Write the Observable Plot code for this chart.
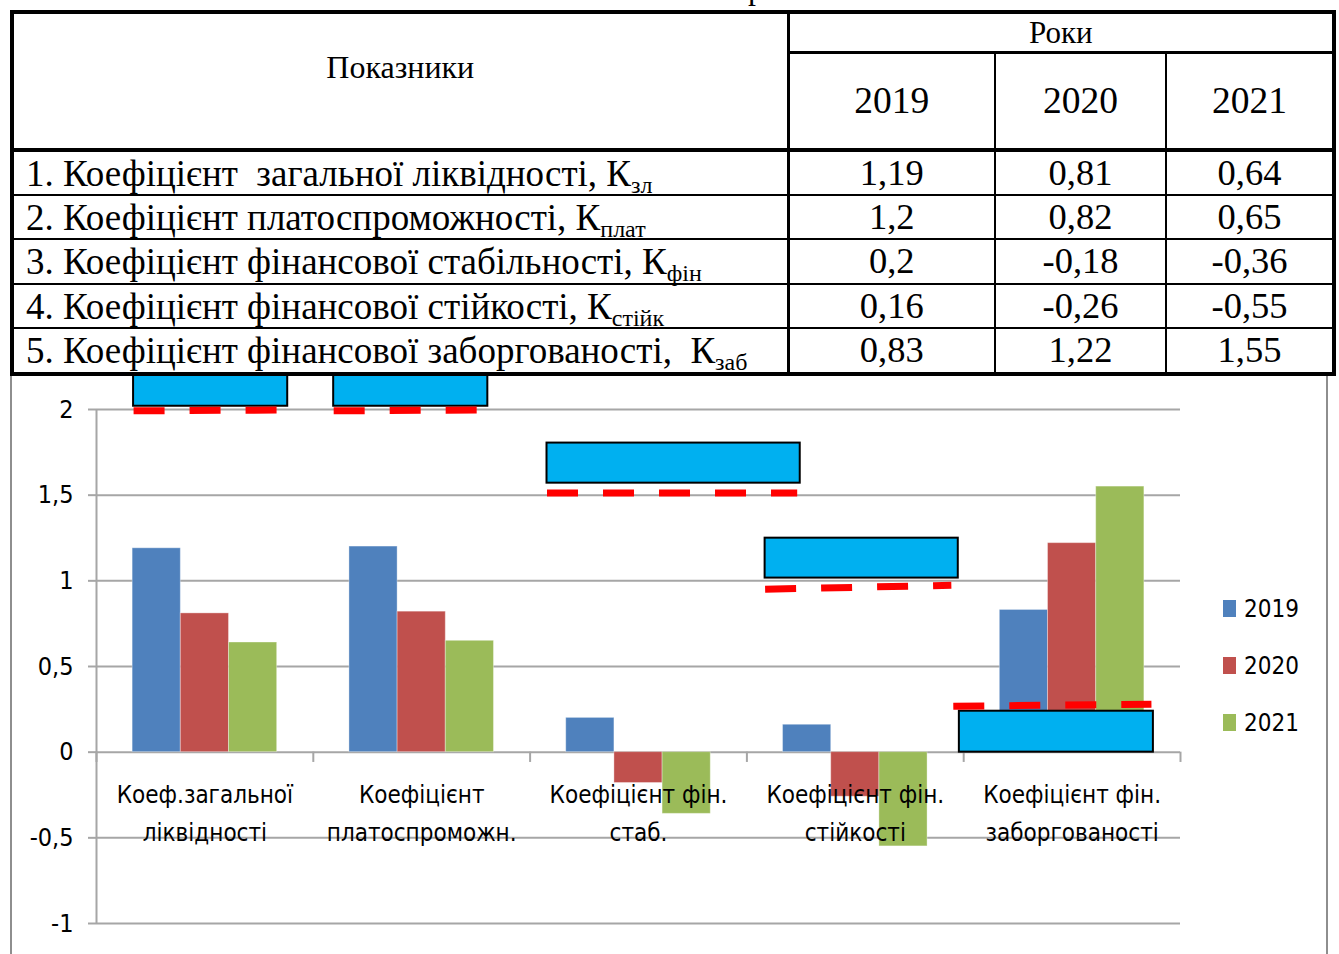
<!DOCTYPE html>
<html><head><meta charset="utf-8">
<script src="https://cdn.jsdelivr.net/npm/d3@7"></script>
<script src="https://cdn.jsdelivr.net/npm/@observablehq/plot@0.6"></script>
<style>
html,body{margin:0;padding:0;background:#fff;overflow:hidden;width:1339px;height:954px;}
#cap{position:absolute;left:748px;top:-28px;font:32px/32px "Liberation Serif","Times New Roman",serif;}
#tbl{position:absolute;left:10px;top:10px;width:1322px;border-collapse:collapse;table-layout:fixed;font-family:"Liberation Serif","Times New Roman",serif;color:#000;z-index:2;background:#fff;}
#tbl td{border:2px solid #000;padding:0;text-align:center;white-space:pre;line-height:1;}
#tbl td.lbl{text-align:left;padding-left:12px;font-size:37px;}
#tbl td.val{font-size:36.5px;}
#tbl sub{font-size:24px;vertical-align:-7px;line-height:0;}
#frame{position:absolute;left:10px;top:370px;width:1314px;height:700px;border:2px solid #8e8e8e;z-index:0;}
#chart{position:absolute;left:0;top:374px;z-index:1;}
#chart svg{overflow:visible;}
#legend{position:absolute;left:0;top:0;z-index:3;font-family:"Liberation Sans Narrow","Arial Narrow","DejaVu Sans Condensed",sans-serif;font-size:24px;}
.li{position:absolute;left:1223px;height:30px;line-height:30px;white-space:nowrap;}
.li span.sw{display:inline-block;width:13px;height:17px;vertical-align:middle;margin-right:8px;position:relative;top:-2px;}
</style>
</head><body>
<div id="cap">р</div>
<div id="frame"></div>
<table id="tbl"></table>
<div id="chart"></div>
<div id="legend"></div>
<script>
// ---- data ----
const indicatorNames = [
  "1. Коефіцієнт  загальної ліквідності, К",
  "2. Коефіцієнт платоспроможності, К",
  "3. Коефіцієнт фінансової стабільності, К",
  "4. Коефіцієнт фінансової стійкості, К",
  "5. Коефіцієнт фінансової заборгованості,  К"
];
const indicatorSubs = ["зл", "плат", "фін", "стійк", "заб"];
const categories = [
  "Коеф.загальної\nліквідності",
  "Коефіцієнт\nплатоспроможн.",
  "Коефіцієнт фін.\nстаб.",
  "Коефіцієнт фін.\nстійкості",
  "Коефіцієнт фін.\nзаборгованості"
];
const years = ["2019", "2020", "2021"];
const values2019 = [1.19, 1.2, 0.2, 0.16, 0.83];
const values2020 = [0.81, 0.82, -0.18, -0.26, 1.22];
const values2021 = [0.64, 0.65, -0.36, -0.55, 1.55];
const yTicks = [-1, -0.5, 0, 0.5, 1, 1.5, 2];
const colors = ["#4f81bd", "#c0504d", "#9bbb59"];
// annotation boxes and dashed threshold lines (in chart data space: category units, value units)
const boxes = [
  {x1: 0.171, x2: 0.882, y1: 2.019, y2: 2.2},
  {x1: 1.094, x2: 1.805, y1: 2.019, y2: 2.2},
  {x1: 2.078, x2: 3.246, y1: 1.57, y2: 1.804},
  {x1: 3.084, x2: 3.975, y1: 1.016, y2: 1.249},
  {x1: 3.980, x2: 4.875, y1: 0.0, y2: 0.239}
];
const dashes = [
  {x1: 0.171, x2: 0.836, y1: 1.992, y2: 1.997},
  {x1: 1.094, x2: 1.759, y1: 1.992, y2: 1.997},
  {x1: 2.078, x2: 3.232, y1: 1.512, y2: 1.512},
  {x1: 3.084, x2: 3.943, y1: 0.951, y2: 0.974},
  {x1: 3.952, x2: 4.866, y1: 0.268, y2: 0.280}
];

const series = [values2019, values2020, values2021];
const fmt = v => String(v).replace(".", ",");

// ---- table ----
const tbl = document.getElementById("tbl");
let html = '<colgroup><col style="width:776px"><col style="width:207px"><col style="width:171px"><col style="width:168px"></colgroup>';
html += '<tr style="height:40px"><td rowspan="2" style="border:4px solid #000;border-right:3px solid #000;vertical-align:top;padding-top:37px;font-size:32px;">Показники</td>'
      + '<td colspan="3" style="border-top:4px solid #000;border-right:4px solid #000;border-bottom:3px solid #000;font-size:31px;">Роки</td></tr>';
html += '<tr style="height:98px">' + years.map((y, j) => `<td style="font-size:37.5px;border-bottom:4px solid #000;${j===2?'border-right:4px solid #000;':''}">${y}</td>`).join("") + '</tr>';
const rowH = [45, 44, 45, 44, 46];
indicatorNames.forEach((n, i) => {
  const last = i === indicatorNames.length - 1;
  const bb = last ? 'border-bottom:4px solid #000;' : '';
  html += `<tr style="height:${rowH[i]}px"><td class="lbl" style="border-left:4px solid #000;border-right:3px solid #000;${bb}">${n}<sub>${indicatorSubs[i]}</sub></td>`
    + series.map((s, j) => `<td class="val" style="${bb}${j===2?'border-right:4px solid #000;':''}">${fmt(s[i])}</td>`).join("") + '</tr>';
});
tbl.innerHTML = html;

// ---- chart ----
const bars = [];
categories.forEach((c, i) => years.forEach((yr, j) => bars.push({cat: i, j, year: yr, value: series[j][i]})));
const groupPad = 1 / 6, barW = (1 - 2 * groupPad) / years.length;
const chartFont = '"Liberation Sans Narrow","Arial Narrow","DejaVu Sans Condensed",sans-serif';

const plot = Plot.plot({
  width: 1339, height: 580,
  marginLeft: 96, marginRight: 159, marginTop: 35, marginBottom: 31,
  x: {domain: [0, categories.length], axis: null},
  y: {domain: [-1, 2], axis: null},
  color: {domain: years, range: colors},
  style: {fontFamily: chartFont, fontSize: "24px", color: "#000", background: "transparent", overflow: "visible"},
  marks: [
    Plot.gridY(yTicks, {stroke: "#a6a6a6", strokeOpacity: 1, strokeWidth: 2}),
    Plot.axisY(yTicks, {tickSize: 8, tickPadding: 15, stroke: "#a6a6a6", strokeOpacity: 1, strokeWidth: 2, tickFormat: fmt, fontSize: 25, fill: "#000"}),
    Plot.ruleX([0], {y1: -1, y2: 2, stroke: "#a6a6a6", strokeWidth: 2}),
    Plot.rect(bars, {
      x1: d => d.cat + groupPad + d.j * barW,
      x2: d => d.cat + groupPad + (d.j + 1) * barW,
      y1: 0, y2: "value", fill: "year", stroke: "#ffffff", strokeOpacity: 0.35, strokeWidth: 1
    }),
    Plot.ruleX(d3.range(categories.length + 1), {y1: 0, y2: -0.06, stroke: "#a6a6a6", strokeWidth: 2}),
    Plot.text(categories, {x: (d, i) => i + 0.5, y: 0, dy: 58, lineAnchor: "middle", lineHeight: 1.58, text: d => d, fill: "#000", fontSize: 24}),
    Plot.rect(boxes, {x1: "x1", x2: "x2", y1: "y1", y2: "y2", fill: "#00b0f0", stroke: "#000", strokeWidth: 2}),
    Plot.link(dashes, {x1: "x1", x2: "x2", y1: "y1", y2: "y2", stroke: "#ff0000", strokeWidth: 7, strokeDasharray: "31,25"})
  ]
});
document.getElementById("chart").appendChild(plot);

// ---- legend ----
const legend = document.getElementById("legend");
const legendTop = [609, 666, 723];
years.forEach((y, j) => {
  const d = document.createElement("div");
  d.className = "li";
  d.style.top = (legendTop[j] - 15) + "px";
  d.innerHTML = `<span class="sw" style="background:${colors[j]}"></span>${y}`;
  legend.appendChild(d);
});
</script>
</body></html>
